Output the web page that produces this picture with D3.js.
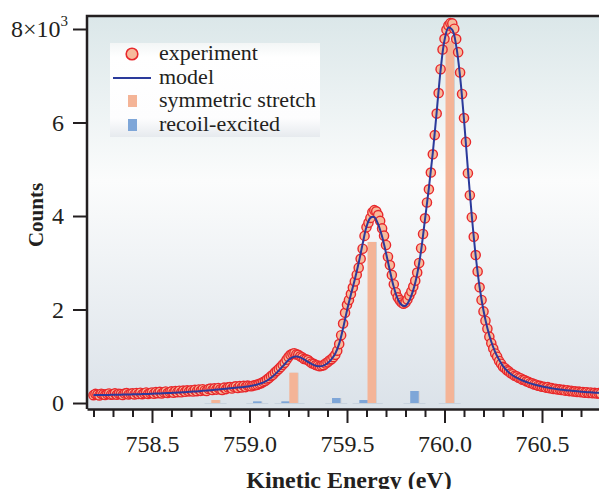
<!DOCTYPE html>
<html lang="en">
<head>
<meta charset="utf-8">
<title>Kinetic energy spectrum</title>
<script src="https://d3js.org/d3.v7.min.js"></script>
<style>
  body { margin: 0; background: #fff; }
  text { font-family: "Liberation Serif", "Times New Roman", serif; fill: #231f20; }
</style>
</head>
<body>
<div id="chart"></div>
<script>

// experiment: energies (eV) and counts
var energy = [
  758.20, 758.21, 758.22, 758.23, 758.24, 758.25, 758.26, 758.27, 758.28, 758.29,
  758.30, 758.31, 758.32, 758.33, 758.34, 758.35, 758.36, 758.37, 758.38, 758.39,
  758.40, 758.41, 758.42, 758.43, 758.44, 758.45, 758.46, 758.47, 758.48, 758.49,
  758.50, 758.51, 758.52, 758.53, 758.54, 758.55, 758.56, 758.57, 758.58, 758.59,
  758.60, 758.61, 758.62, 758.63, 758.64, 758.65, 758.66, 758.67, 758.68, 758.69,
  758.70, 758.71, 758.72, 758.73, 758.74, 758.75, 758.76, 758.77, 758.78, 758.79,
  758.80, 758.81, 758.82, 758.83, 758.84, 758.85, 758.86, 758.87, 758.88, 758.89,
  758.90, 758.91, 758.92, 758.93, 758.94, 758.95, 758.96, 758.97, 758.98, 758.99,
  759.00, 759.01, 759.02, 759.03, 759.04, 759.05, 759.06, 759.07, 759.08, 759.09,
  759.10, 759.11, 759.12, 759.13, 759.14, 759.15, 759.16, 759.17, 759.18, 759.19,
  759.20, 759.21, 759.22, 759.23, 759.24, 759.25, 759.26, 759.27, 759.28, 759.29,
  759.30, 759.31, 759.32, 759.33, 759.34, 759.35, 759.36, 759.37, 759.38, 759.39,
  759.40, 759.41, 759.42, 759.43, 759.44, 759.45, 759.46, 759.47, 759.48, 759.49,
  759.50, 759.51, 759.52, 759.53, 759.54, 759.55, 759.56, 759.57, 759.58, 759.59,
  759.60, 759.61, 759.62, 759.63, 759.64, 759.65, 759.66, 759.67, 759.68, 759.69,
  759.70, 759.71, 759.72, 759.73, 759.74, 759.75, 759.76, 759.77, 759.78, 759.79,
  759.80, 759.81, 759.82, 759.83, 759.84, 759.85, 759.86, 759.87, 759.88, 759.89,
  759.90, 759.91, 759.92, 759.93, 759.94, 759.95, 759.96, 759.97, 759.98, 759.99,
  760.00, 760.01, 760.02, 760.03, 760.04, 760.05, 760.06, 760.07, 760.08, 760.09,
  760.10, 760.11, 760.12, 760.13, 760.14, 760.15, 760.16, 760.17, 760.18, 760.19,
  760.20, 760.21, 760.22, 760.23, 760.24, 760.25, 760.26, 760.27, 760.28, 760.29,
  760.30, 760.31, 760.32, 760.33, 760.34, 760.35, 760.36, 760.37, 760.38, 760.39,
  760.40, 760.41, 760.42, 760.43, 760.44, 760.45, 760.46, 760.47, 760.48, 760.49,
  760.50, 760.51, 760.52, 760.53, 760.54, 760.55, 760.56, 760.57, 760.58, 760.59,
  760.60, 760.61, 760.62, 760.63, 760.64, 760.65, 760.66, 760.67, 760.68, 760.69,
  760.70, 760.71, 760.72, 760.73, 760.74, 760.75, 760.76, 760.77, 760.78, 760.79,
  760.80
];
var counts = [
  168, 195, 181, 163, 199, 186, 170, 192, 205, 178,
  184, 208, 176, 199, 191, 170, 204, 213, 182, 197,
  206, 183, 214, 192, 221, 189, 208, 226, 195, 212,
  225, 199, 232, 210, 240, 204, 228, 246, 214, 233,
  248, 222, 255, 232, 263, 229, 266, 240, 272, 249,
  271, 246, 281, 254, 290, 260, 296, 268, 257, 300,
  309, 278, 314, 287, 322, 292, 281, 329, 298, 334,
  340, 309, 348, 356, 322, 361, 333, 367, 340, 372,
  364, 358, 375, 382, 390, 410, 424, 450, 470, 505,
  535, 575, 605, 652, 688, 730, 768, 818, 860, 925,
  984, 1030, 1052, 1064, 1040, 1030, 998, 978, 944, 935,
  918, 884, 850, 838, 812, 803, 788, 798, 810, 845,
  872, 910, 938, 980, 1030, 1120, 1260, 1450, 1700, 1930,
  2100, 2205, 2330, 2470, 2600, 2745, 2895, 3085, 3300, 3575,
  3760, 3855, 3960, 4080, 4125, 4100, 4020, 3895, 3735, 3580,
  3380, 3130, 2950, 2740, 2540, 2370, 2260, 2200, 2150, 2125,
  2150, 2215, 2300, 2385, 2490, 2615, 2790, 2995, 3310, 3615,
  3950, 4290, 4570, 4930, 5320, 5730, 6190, 6630, 7140, 7560,
  7790, 7985, 8075, 8125, 8120, 8005, 7785, 7505, 7070, 6610,
  6095, 5585, 4915, 4445, 3975, 3555, 3165, 2815, 2475, 2205,
  1960, 1760, 1590, 1420, 1280, 1165, 1060, 990, 900, 840,
  775, 745, 700, 676, 636, 616, 584, 570, 541, 530,
  500, 490, 463, 455, 428, 422, 398, 392, 370, 366,
  347, 348, 330, 339, 315, 318, 301, 305, 289, 292,
  277, 281, 265, 274, 255, 262, 245, 251, 237, 243,
  229, 236, 222, 230, 215, 225, 209, 218, 203, 211,
  198
];

// model curve
var modelEnergy = [
  758.20, 758.22, 758.24, 758.26, 758.28, 758.30, 758.32, 758.34, 758.36, 758.38,
  758.40, 758.42, 758.44, 758.46, 758.48, 758.50, 758.52, 758.54, 758.56, 758.58,
  758.60, 758.62, 758.64, 758.66, 758.68, 758.70, 758.72, 758.74, 758.76, 758.78,
  758.80, 758.82, 758.84, 758.86, 758.88, 758.90, 758.92, 758.94, 758.96, 758.98,
  759.00, 759.02, 759.04, 759.06, 759.08, 759.10, 759.12, 759.14, 759.16, 759.18,
  759.20, 759.22, 759.24, 759.26, 759.28, 759.30, 759.32, 759.34, 759.36, 759.38,
  759.40, 759.42, 759.44, 759.46, 759.48, 759.50, 759.52, 759.54, 759.56, 759.58,
  759.60, 759.62, 759.64, 759.66, 759.68, 759.70, 759.72, 759.74, 759.76, 759.78,
  759.80, 759.82, 759.84, 759.86, 759.88, 759.90, 759.92, 759.94, 759.96, 759.98,
  760.00, 760.02, 760.04, 760.06, 760.08, 760.10, 760.12, 760.14, 760.16, 760.18,
  760.20, 760.22, 760.24, 760.26, 760.28, 760.30, 760.32, 760.34, 760.36, 760.38,
  760.40, 760.42, 760.44, 760.46, 760.48, 760.50, 760.52, 760.54, 760.56, 760.58,
  760.60, 760.62, 760.64, 760.66, 760.68, 760.70, 760.72, 760.74, 760.76, 760.78,
  760.80
];
var modelCounts = [
  170, 171, 172, 173, 174, 176, 177, 179, 181, 183,
  185, 187, 190, 192, 195, 198, 201, 204, 208, 212,
  216, 220, 225, 230, 235, 241, 247, 253, 260, 267,
  274, 282, 290, 298, 306, 314, 322, 330, 339, 349,
  361, 376, 396, 422, 459, 508, 572, 650, 738, 830,
  918, 978, 995, 975, 932, 880, 832, 798, 785, 800,
  850, 935, 1060, 1270, 1600, 1980, 2320, 2640, 3000, 3400,
  3770, 3960, 3975, 3820, 3560, 3210, 2830, 2480, 2230, 2100,
  2080, 2200, 2420, 2760, 3260, 3930, 4600, 5350, 6230, 7120,
  7760, 8030, 7980, 7640, 6980, 6060, 5000, 4000, 3150, 2480,
  1980, 1600, 1310, 1090, 925, 790, 695, 620, 565, 520,
  482, 450, 420, 395, 373, 353, 336, 321, 308, 296,
  285, 275, 266, 258, 250, 243, 236, 230, 224, 219,
  214
];

// stick components
var stretchEnergy = [758.826, 759.226, 759.627, 760.027];
var stretchCounts = [64, 648, 3445, 7745];
var recoilEnergy = [759.04, 759.185, 759.445, 759.585, 759.846];
var recoilCounts = [35, 35, 107, 64, 257];

var yTicks = [0, 2000, 4000, 6000, 8000];
var xMajor = [758.5, 759.0, 759.5, 760.0, 760.5];
var xMinor = [758.2, 758.3, 758.4, 758.6, 758.7, 758.8, 758.9, 759.1, 759.2, 759.3, 759.4,
              759.6, 759.7, 759.8, 759.9, 760.1, 760.2, 760.3, 760.4, 760.6, 760.7];
var legendLabels = ["experiment", "model", "symmetric stretch", "recoil-excited"];

var W = 599, H = 489;
var pLeft = 87, pTop = 16, pRight = 599, pBottom = 409;

var svg = d3.select("#chart").append("svg")
  .attr("width", W).attr("height", H);

var defs = svg.append("defs");
var bg = defs.append("linearGradient").attr("id", "bg")
  .attr("x1", 0).attr("y1", 0).attr("x2", 0).attr("y2", 1);
bg.append("stop").attr("offset", "0%").attr("stop-color", "#dbe7e9");
bg.append("stop").attr("offset", "42%").attr("stop-color", "#fbfcfc");
bg.append("stop").attr("offset", "100%").attr("stop-color", "#dbe2e9");

var lg = defs.append("linearGradient").attr("id", "lg")
  .attr("x1", 0).attr("y1", 0).attr("x2", 0).attr("y2", 1);
lg.append("stop").attr("offset", "0%").attr("stop-color", "#f3f6f6");
lg.append("stop").attr("offset", "15%").attr("stop-color", "#ffffff");
lg.append("stop").attr("offset", "80%").attr("stop-color", "#fdfdfe");
lg.append("stop").attr("offset", "100%").attr("stop-color", "#e6eaee");

var x = d3.scaleLinear().domain([758.1667, 760.7923]).range([pLeft, pRight]);
var y = d3.scaleLinear().domain([-128, 8278]).range([pBottom, pTop]);

svg.append("rect")
  .attr("x", pLeft).attr("y", pTop)
  .attr("width", pRight - pLeft).attr("height", pBottom - pTop)
  .attr("fill", "url(#bg)");

// legend box (behind data)
svg.append("rect")
  .attr("x", 110).attr("y", 43).attr("width", 210).attr("height", 94)
  .attr("fill", "url(#lg)");

var plot = svg.append("g");

// faint baselines under the sticks
var allSticks = stretchEnergy.concat(recoilEnergy);
plot.selectAll("line.base").data(allSticks).enter().append("line")
  .attr("x1", function(d) { return x(d) - 11; })
  .attr("x2", function(d) { return x(d) + 11; })
  .attr("y1", y(0) + 0.5).attr("y2", y(0) + 0.5)
  .attr("stroke", "#c9d3de").attr("stroke-width", 1);

var bw = 8.5;
function bars(en, ct, color) {
  var d = en.map(function(e, i) { return {e: e, c: ct[i]}; });
  plot.selectAll(null).data(d).enter().append("rect")
    .attr("x", function(v) { return x(v.e) - bw / 2 + 1; })
    .attr("y", function(v) { return y(v.c); })
    .attr("width", bw)
    .attr("height", function(v) { return y(0) - y(v.c); })
    .attr("fill", "#d2d2d4");
  plot.selectAll(null).data(d).enter().append("rect")
    .attr("x", function(v) { return x(v.e) - bw / 2; })
    .attr("y", function(v) { return y(v.c); })
    .attr("width", bw)
    .attr("height", function(v) { return y(0) - y(v.c); })
    .attr("fill", color);
}
bars(recoilEnergy, recoilCounts, "#7ea6d8");
bars(stretchEnergy, stretchCounts, "#f4b497");

// experiment circles
var pts = energy.map(function(e, i) { return {e: e, c: counts[i]}; });
plot.selectAll("circle.exp").data(pts).enter().append("circle")
  .attr("cx", function(d) { return x(d.e); })
  .attr("cy", function(d) { return y(d.c); })
  .attr("r", 4.6)
  .attr("fill", "#f6bb9c")
  .attr("stroke", "#e8282c")
  .attr("stroke-width", 1.4);

// model line
var line = d3.line()
  .x(function(d, i) { return x(modelEnergy[i]); })
  .y(function(d) { return y(d); })
  .curve(d3.curveCatmullRom);
plot.append("path")
  .attr("d", line(modelCounts))
  .attr("fill", "none")
  .attr("stroke", "#2b3a9b")
  .attr("stroke-width", 2);

// frame
svg.append("path")
  .attr("d", "M" + pLeft + "," + pBottom + "V" + pTop + "H" + pRight)
  .attr("fill", "none").attr("stroke", "#231f20").attr("stroke-width", 2.5);

// y axis
var yAxis = svg.append("g")
  .attr("transform", "translate(" + pLeft + ",0)")
  .call(d3.axisLeft(y).tickValues(yTicks).tickSize(14).tickPadding(9)
    .tickFormat(function(d) { return d / 1000; }));
yAxis.select(".domain").remove();
yAxis.selectAll(".tick line").attr("stroke", "#231f20").attr("stroke-width", 2);
yAxis.selectAll(".tick text")
  .attr("font-family", "Liberation Serif").attr("font-size", 24)
  .attr("fill", "#231f20").attr("dy", "0.33em");
yAxis.selectAll(".tick").filter(function(d) { return d === 8000; }).select("text")
  .text("8×10")
  .attr("x", -19)
  .append("tspan").attr("font-size", 15).attr("dy", "-0.75em").text("3");

// x axis
var xAxis = svg.append("g")
  .attr("transform", "translate(0," + pBottom + ")")
  .call(d3.axisBottom(x).tickValues(xMajor).tickSize(14).tickSizeOuter(0).tickPadding(12)
    .tickFormat(d3.format(".1f")));
xAxis.select(".domain").attr("stroke", "#231f20").attr("stroke-width", 2.5);
xAxis.selectAll(".tick line").attr("stroke", "#231f20").attr("stroke-width", 2);
xAxis.selectAll(".tick text")
  .attr("font-family", "Liberation Serif").attr("font-size", 24).attr("fill", "#231f20");

var xMinorAxis = svg.append("g")
  .attr("transform", "translate(0," + pBottom + ")")
  .call(d3.axisBottom(x).tickValues(xMinor).tickSize(8).tickFormat(""));
xMinorAxis.select(".domain").remove();
xMinorAxis.selectAll(".tick line").attr("stroke", "#231f20").attr("stroke-width", 2);

// axis titles
svg.append("text")
  .attr("x", 349).attr("y", 488)
  .attr("text-anchor", "middle")
  .attr("font-size", 24).attr("font-weight", "bold")
  .text("Kinetic Energy (eV)");

svg.append("text")
  .attr("transform", "translate(43,215) rotate(-90)")
  .attr("text-anchor", "middle")
  .attr("font-size", 21).attr("font-weight", "bold")
  .text("Counts");

// legend entries
var leg = svg.append("g");
var rowY = [54, 78, 101, 125];
leg.append("circle").attr("cx", 132).attr("cy", rowY[0]).attr("r", 5.8)
  .attr("fill", "#f6bb9c").attr("stroke", "#e8282c").attr("stroke-width", 1.6);
leg.append("line").attr("x1", 113).attr("x2", 151).attr("y1", rowY[1]).attr("y2", rowY[1])
  .attr("stroke", "#2b3a9b").attr("stroke-width", 2);
leg.append("rect").attr("x", 128).attr("y", rowY[2] - 6).attr("width", 9).attr("height", 12)
  .attr("fill", "#f4b497");
leg.append("rect").attr("x", 128).attr("y", rowY[3] - 6).attr("width", 9).attr("height", 12)
  .attr("fill", "#7ea6d8");
leg.selectAll("text").data(legendLabels).enter().append("text")
  .attr("x", 159)
  .attr("y", function(d, i) { return rowY[i] + 6; })
  .attr("font-size", 22)
  .text(function(d) { return d; });

</script>
</body>
</html>
